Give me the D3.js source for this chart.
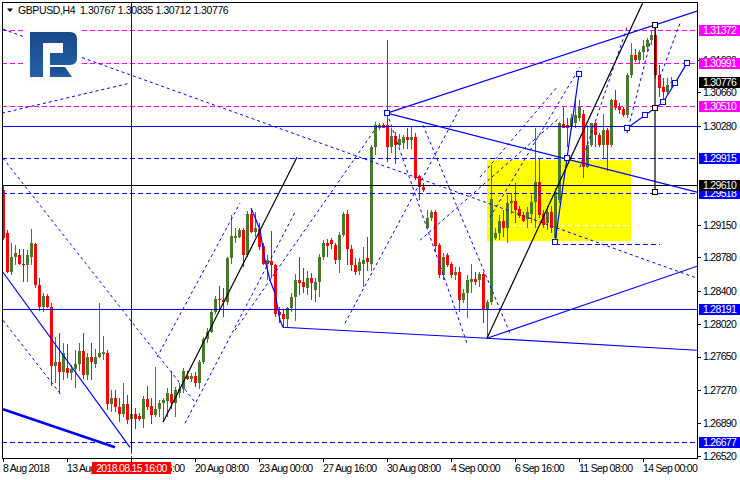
<!DOCTYPE html>
<html><head><meta charset="utf-8">
<script src="https://cdn.jsdelivr.net/npm/d3@7"></script>
<style>
html,body{margin:0;padding:0;background:#fff;}
svg{display:block;font-family:"Liberation Sans",Arial,sans-serif;}
</style></head><body>
<svg id="c" width="740" height="480"></svg>
<script>
// ---- DATA ----
const symbolTitle = "GBPUSD,H4  1.30767 1.30835 1.30712 1.30776";
const opens = [1.2955,1.2906,1.2861,1.2878,1.2881,1.2871,1.2869,1.2879,1.2893,1.2847,1.2821,1.2834,1.2822,1.2754,1.2759,1.2747,1.2752,1.2746,1.2751,1.2757,
1.2771,1.2744,1.2764,1.2757,1.2765,1.2768,1.2769,1.2711,1.2718,1.2707,1.2700,1.2711,1.2694,1.2699,1.2697,1.2694,1.2717,1.2709,1.2698,1.2705,
1.2712,1.2714,1.2722,1.2712,1.2723,1.2728,1.2743,1.2740,1.2743,1.2735,1.2759,1.2785,1.2793,1.2816,1.2831,1.2830,1.2827,1.2877,1.2900,1.2901,
1.2909,1.2881,1.2928,1.2907,1.2910,1.2891,1.2871,1.2874,1.2869,1.2816,1.2813,1.2808,1.2820,1.2833,1.2852,1.2850,1.2843,1.2854,1.2841,1.2850,
1.2878,1.2894,1.2898,1.2892,1.2875,1.2903,1.2928,1.2888,1.2869,1.2862,1.2871,1.2877,1.2871,1.3004,1.3026,1.3029,1.3029,1.3004,1.3016,1.3006,
1.3008,1.3015,1.3012,1.3015,1.2971,1.2958,1.2912,1.2923,1.2930,1.2892,1.2858,1.2881,1.2871,1.2858,1.2861,1.2829,1.2837,1.2850,1.2853,1.2852,
1.2859,1.2818,1.2827,1.2900,1.2906,1.2920,1.2911,1.2940,1.2942,1.2933,1.2926,1.2922,1.2928,1.2941,1.2964,1.2928,1.2917,1.2930,1.2900,1.2943,
1.3030,1.3029,1.3028,1.3031,1.3037,1.3042,1.2981,1.3006,1.3031,1.3017,1.3006,1.3023,1.3006,1.3057,1.3049,1.3047,1.3040,1.3086,1.3109,1.3103,
1.3112,1.3118,1.3126,1.3132,1.3086,1.3072,1.3066,1.30767];
const highs = [1.2960,1.2909,1.2895,1.2892,1.2888,1.2888,1.2886,1.2910,1.2895,1.2854,1.2837,1.2836,1.2826,1.2787,1.2792,1.2780,1.2779,1.2755,1.2772,1.2780,
1.2792,1.2769,1.2780,1.2774,1.2826,1.2789,1.2772,1.2727,1.2727,1.2718,1.2735,1.2721,1.2702,1.2706,1.2701,1.2720,1.2732,1.2718,1.2753,1.2715,
1.2718,1.2729,1.2748,1.2730,1.2735,1.2752,1.2749,1.2746,1.2747,1.2761,1.2787,1.2798,1.2818,1.2834,1.2845,1.2843,1.2879,1.2926,1.2912,1.2911,
1.2911,1.2931,1.2934,1.2930,1.2917,1.2894,1.2881,1.2908,1.2871,1.2821,1.2818,1.2822,1.2838,1.2859,1.2879,1.2866,1.2862,1.2860,1.2854,1.2882,
1.2898,1.2899,1.2900,1.2894,1.2907,1.2930,1.2932,1.2892,1.2877,1.2877,1.2890,1.2901,1.3006,1.3032,1.3031,1.3031,1.3126,1.3026,1.3021,1.3019,
1.3017,1.3025,1.3028,1.3020,1.2972,1.2963,1.2932,1.2932,1.2932,1.2894,1.2883,1.2883,1.2873,1.2867,1.2867,1.2842,1.2858,1.2871,1.2861,1.2861,
1.2861,1.2829,1.2983,1.2911,1.2926,1.2932,1.2949,1.2951,1.2963,1.2937,1.2930,1.2935,1.2949,1.3025,1.2991,1.2932,1.2937,1.2937,1.2957,1.3032,
1.3049,1.3037,1.3042,1.3061,1.3057,1.3046,1.3029,1.3031,1.3032,1.3020,1.3042,1.3026,1.3059,1.3069,1.3054,1.3049,1.3088,1.3122,1.3116,1.3114,
1.3126,1.3128,1.3137,1.3140,1.3097,1.3082,1.3082,1.30835];
const lows = [1.2898,1.2860,1.2858,1.2869,1.2869,1.2850,1.2850,1.2869,1.2843,1.2817,1.2816,1.2820,1.2732,1.2735,1.2722,1.2738,1.2741,1.2738,1.2729,1.2749,
1.2740,1.2738,1.2738,1.2752,1.2763,1.2761,1.2704,1.2702,1.2702,1.2690,1.2696,1.2688,1.2692,1.2683,1.2692,1.2684,1.2704,1.2688,1.2696,1.2696,
1.2690,1.2696,1.2705,1.2696,1.2718,1.2724,1.2738,1.2736,1.2730,1.2728,1.2757,1.2780,1.2792,1.2814,1.2818,1.2810,1.2824,1.2871,1.2895,1.2900,
1.2867,1.2878,1.2906,1.2901,1.2886,1.2869,1.2852,1.2855,1.2810,1.2803,1.2798,1.2798,1.2816,1.2806,1.2835,1.2837,1.2835,1.2829,1.2827,1.2833,
1.2875,1.2878,1.2888,1.2870,1.2860,1.2901,1.2869,1.2863,1.2858,1.2858,1.2844,1.2863,1.2863,1.2995,1.3023,1.3025,1.2987,1.2997,1.2985,1.3004,
1.3002,1.3002,1.3002,1.2966,1.2943,1.2952,1.2911,1.2920,1.2884,1.2854,1.2852,1.2867,1.2855,1.2852,1.2816,1.2826,1.2809,1.2838,1.2846,1.2844,
1.2803,1.2786,1.2824,1.2898,1.2898,1.2901,1.2895,1.2928,1.2917,1.2923,1.2918,1.2912,1.2917,1.2912,1.2923,1.2911,1.2909,1.2906,1.2895,1.2940,
1.3025,1.3004,1.3023,1.3026,1.3034,1.2968,1.2980,1.3004,1.3004,1.3004,1.2991,1.2977,1.3004,1.3046,1.3042,1.3038,1.3037,1.3082,1.3101,1.3099,
1.3103,1.3112,1.3120,1.3082,1.3061,1.3059,1.3063,1.30712];
const closes = [1.2900,1.2861,1.2878,1.2883,1.2871,1.2869,1.2881,1.2894,1.2846,1.2821,1.2834,1.2821,1.2754,1.2759,1.2747,1.2769,1.2746,1.2751,1.2757,1.2771,
1.2744,1.2764,1.2759,1.2765,1.2769,1.2770,1.2711,1.2718,1.2707,1.2700,1.2711,1.2693,1.2699,1.2694,1.2694,1.2717,1.2708,1.2698,1.2705,1.2712,
1.2716,1.2724,1.2712,1.2727,1.2728,1.2748,1.2740,1.2743,1.2735,1.2759,1.2785,1.2793,1.2816,1.2831,1.2829,1.2827,1.2877,1.2902,1.2902,1.2909,
1.2881,1.2928,1.2907,1.2912,1.2890,1.2871,1.2875,1.2869,1.2814,1.2812,1.2808,1.2820,1.2833,1.2852,1.2849,1.2844,1.2854,1.2849,1.2850,1.2878,
1.2894,1.2891,1.2893,1.2875,1.2903,1.2928,1.2888,1.2869,1.2861,1.2873,1.2875,1.2873,1.3004,1.3029,1.3029,1.3026,1.3004,1.3016,1.3006,1.3013,
1.3015,1.3012,1.3015,1.2969,1.2958,1.2955,1.2923,1.2930,1.2891,1.2858,1.2879,1.2869,1.2858,1.2861,1.2829,1.2837,1.2852,1.2853,1.2850,1.2859,
1.2818,1.2827,1.2945,1.2906,1.2920,1.2911,1.2940,1.2942,1.2932,1.2925,1.2920,1.2930,1.2941,1.2964,1.2926,1.2915,1.2930,1.2911,1.2952,1.3031,
1.3026,1.3026,1.3037,1.3040,1.3049,1.2981,1.3006,1.3031,1.3017,1.3006,1.3023,1.3006,1.3057,1.3048,1.3046,1.3040,1.3086,1.3109,1.3103,1.3112,
1.3119,1.3126,1.3132,1.3086,1.3071,1.3066,1.3075,1.30776];

const timeTickBars = [0,16,32,48,64,80,96,112,128,144,160];
const timeTickLabels = ["8 Aug 2018","13 Aug 00:00","15 Aug 16:00","20 Aug 08:00","23 Aug 00:00","27 Aug 16:00","30 Aug 08:00","4 Sep 00:00","6 Sep 16:00","11 Sep 08:00","14 Sep 00:00"];
const crosshairBar = 32;
const crosshairLabel = "2018.08.15 16:00";
const priceTicks = [1.26520,1.26890,1.27270,1.27650,1.28020,1.28400,1.28780,1.29150,1.30280,1.30660,1.31030];

const magentaLevels = [1.31372,1.30991,1.30510];
const blueDashedLevels = [1.29915,1.29518,1.26677];
const blueSolidLevels = [1.30280,1.28191];
const blackSolidLevels = [1.29610];
const currentPrice = 1.30776;

const rectZone = {i1:120.875, i2:156.875, p1:1.29888, p2:1.28965};
const whiteDashedInZone = [[120.875,1.29147],[156.875,1.29147]];
const shortDashed = [[137.875,1.28930],[164.125,1.28930]];

const blueTrend = [
 [[-0.125,1.28611],[31.625,1.26616]],
 [[95.875,1.30424],[173.375,1.31587]],
 [[95.875,1.30424],[173.375,1.29523]],
 [[61.875,1.29341],[62.875,1.29238],[64.125,1.29090],[65.375,1.28748],[66.625,1.28520],[67.875,1.28372],[69.125,1.28064],[69.875,1.27984],[120.875,1.27859],[173.375,1.27722]],
 [[120.875,1.27859],[173.375,1.28680]],
 [[137.875,1.28953],[140.875,1.29911],[143.875,1.30868]],
 [[155.875,1.30253],[160.375,1.30401],[162.875,1.30481],[164.875,1.30549],[167.875,1.30766],[170.875,1.30994]]
];
const blueTrendThick = [[[-0.125,1.27049],[27.875,1.26616]]];
const blackTrend = [
 [[39.875,1.26901],[73.375,1.29922]],
 [[120.875,1.27859],[159.875,1.31689]],
 [[162.875,1.31427],[162.875,1.29523]]
];
const dashedTrend = [
 [[-0.125,1.31381],[173.375,1.28543]],
 [[-0.375,1.30424],[31.625,1.30766]],
 [[-0.125,1.29911],[47.875,1.27129]],
 [[-0.125,1.28064],[14.125,1.27232]],
 [[38.375,1.27642],[59.125,1.29398]],
 [[45.375,1.26890],[72.875,1.29295]],
 [[57.875,1.27950],[93.625,1.30287]],
 [[85.375,1.28030],[114.125,1.30481]],
 [[95.875,1.30424],[115.875,1.27802]],
 [[104.875,1.30287],[126.625,1.27916]],
 [[104.125,1.28976],[139.125,1.30378]],
 [[119.125,1.29694],[138.375,1.30720]],
 [[121.625,1.29238],[144.125,1.30948]],
 [[144.125,1.29808],[155.875,1.31404]],
 [[155.875,1.30196],[161.625,1.31222]],
 [[164.125,1.30834],[169.125,1.31450]]
];
const blueMarkers = [[95.875,1.30424],[137.875,1.28953],[140.875,1.29911],[143.875,1.30868],[155.875,1.30253],[160.375,1.30401],[164.875,1.30549],[167.875,1.30766],[170.875,1.30994]];
const blackMarkers = [[162.875,1.31427],[162.875,1.30481],[162.875,1.29523]];

// ---- CHART ----
const svg = d3.select("#c");
const L = 2, R = 697, T = 2, B = 458;
const x = d3.scaleLinear().domain([0, 173.5]).range([3.5, 697.5]);
const y = d3.scaleLinear().domain([1.26494, 1.31691]).range([458, 2]);
const GREEN = "#467a2a", RED = "#ff0000", BLUE = "#0000ff", MAG = "#ff00ff";
const FS = 10.5, LS = -0.7;

svg.append("defs").append("clipPath").attr("id","clip").append("rect")
  .attr("x",L).attr("y",T).attr("width",R-L).attr("height",B-T);
const plot = svg.append("g").attr("clip-path","url(#clip)");

// zone
plot.append("rect").attr("x",x(rectZone.i1)).attr("y",y(rectZone.p1))
  .attr("width",x(rectZone.i2)-x(rectZone.i1)).attr("height",y(rectZone.p2)-y(rectZone.p1))
  .attr("fill","#ffff00");
const line = d3.line().x(d=>x(d[0])).y(d=>y(d[1]));
plot.append("path").attr("d",line(whiteDashedInZone)).attr("stroke","#fff").attr("stroke-dasharray","5,3").attr("fill","none").attr("shape-rendering","crispEdges");

// candles
const bars = d3.range(opens.length).map(i=>({i,o:opens[i],h:highs[i],l:lows[i],c:closes[i]}));
const cg = plot.append("g").attr("shape-rendering","crispEdges");
cg.selectAll(".w").data(bars).join("rect")
  .attr("x",d=>x(d.i)-0.5).attr("width",1)
  .attr("y",d=>Math.round(y(d.h))).attr("height",d=>Math.max(1,Math.round(y(d.l))-Math.round(y(d.h))))
  .attr("fill",d=>d.c>=d.o?GREEN:RED);
cg.selectAll(".b").data(bars).join("rect")
  .attr("x",d=>x(d.i)-1.5).attr("width",3)
  .attr("y",d=>Math.round(y(Math.max(d.o,d.c))))
  .attr("height",d=>Math.max(1,Math.round(y(Math.min(d.o,d.c)))-Math.round(y(Math.max(d.o,d.c)))))
  .attr("fill",d=>d.c>=d.o?GREEN:RED);

// horizontal levels
function hline(v,color,dash,w){
  const yy = Math.round(y(v))+0.5;
  plot.append("line").attr("x1",L).attr("x2",R).attr("y1",yy).attr("y2",yy)
   .attr("stroke",color).attr("stroke-width",w||1).attr("stroke-dasharray",dash||null).attr("shape-rendering","crispEdges");
}
magentaLevels.forEach(v=>hline(v,MAG,"5,3"));
blueDashedLevels.forEach(v=>hline(v,BLUE,"5,3"));
blueSolidLevels.forEach(v=>hline(v,BLUE));
blackSolidLevels.forEach(v=>hline(v,"#000"));
plot.append("path").attr("d",line(shortDashed)).attr("stroke",BLUE).attr("stroke-dasharray","5,3").attr("fill","none").attr("shape-rendering","crispEdges");

// crosshair vertical
plot.append("line").attr("x1",x(crosshairBar)).attr("x2",x(crosshairBar)).attr("y1",T).attr("y2",B-6)
  .attr("stroke",BLUE).attr("shape-rendering","crispEdges");

// trend lines
const tg = plot.append("g").attr("fill","none");
tg.selectAll(".d").data(dashedTrend).join("path").attr("d",line).attr("stroke",BLUE).attr("stroke-width",1).attr("stroke-dasharray","3,3");
tg.selectAll(".s").data(blueTrend).join("path").attr("d",line).attr("stroke",BLUE).attr("stroke-width",1.2);
tg.selectAll(".t").data(blueTrendThick).join("path").attr("d",line).attr("stroke",BLUE).attr("stroke-width",2.6);
tg.selectAll(".k").data(blackTrend).join("path").attr("d",line).attr("stroke","#000").attr("stroke-width",1.2);

// markers
plot.selectAll(".mb").data(blueMarkers).join("rect")
  .attr("x",d=>Math.round(x(d[0]))-2.5).attr("y",d=>Math.round(y(d[1]))-2.5).attr("width",5).attr("height",5)
  .attr("fill","#fff").attr("stroke",BLUE).attr("shape-rendering","crispEdges");
plot.selectAll(".mk").data(blackMarkers).join("rect")
  .attr("x",d=>Math.round(x(d[0]))-2.5).attr("y",d=>Math.round(y(d[1]))-2.5).attr("width",5).attr("height",5)
  .attr("fill","#fff").attr("stroke","#000").attr("shape-rendering","crispEdges");

// logo
const logo = svg.append("g");
logo.append("rect").attr("x",25).attr("y",28).attr("width",55).attr("height",55).attr("fill","#fdfdfd");
const grad = svg.select("defs").append("linearGradient").attr("id","lg").attr("x1",0).attr("y1",0).attr("x2",0).attr("y2",1);
grad.append("stop").attr("offset","0").attr("stop-color","#1a4a88");
grad.append("stop").attr("offset","1").attr("stop-color","#2460a6");
logo.append("path").attr("d","M30,32 H70 Q77,32 77,39 V58 Q77,65 70,65 H50 V53 H63 V43 H43 V77 H30 Z").attr("fill","url(#lg)");
logo.append("path").attr("d","M50,67 H65 L72,77 H50 Z").attr("fill","url(#lg)");

// frame
const fr = svg.append("g").attr("stroke","#000").attr("shape-rendering","crispEdges");
fr.append("line").attr("x1",L+0.5).attr("x2",L+0.5).attr("y1",T).attr("y2",B+1);
fr.append("line").attr("x1",L).attr("x2",R+1).attr("y1",T+0.5).attr("y2",T+0.5);
fr.append("line").attr("x1",R+0.5).attr("x2",R+0.5).attr("y1",T).attr("y2",B+1);
fr.append("line").attr("x1",L).attr("x2",R+1).attr("y1",B+0.5).attr("y2",B+0.5);

// right axis
const ya = svg.append("g").attr("transform",`translate(${R},0)`)
  .call(d3.axisRight(y).tickValues(priceTicks).tickFormat(d3.format(".5f")).tickSize(4).tickSizeOuter(0));
ya.select(".domain").remove();
ya.attr("font-family",null).attr("font-size",null);
ya.selectAll("text").attr("font-size",FS).attr("letter-spacing",LS).attr("x",6).attr("fill","#000");
ya.selectAll("line").attr("stroke","#000").attr("shape-rendering","crispEdges");

// bottom axis
const xa = svg.append("g").attr("transform",`translate(-1,${B})`)
  .call(d3.axisBottom(x).tickValues(timeTickBars).tickFormat((d,k)=>timeTickLabels[k]).tickSize(4).tickSizeOuter(0));
xa.select(".domain").remove();
xa.attr("font-family",null).attr("font-size",null);
xa.selectAll("text").attr("font-size",FS).attr("letter-spacing",LS).attr("text-anchor","start").attr("y",14).attr("dy",null).attr("x",0).attr("fill","#000");
xa.selectAll("line").attr("stroke","#000").attr("shape-rendering","crispEdges");

// price labels (boxes)
function plabel(v,bg){
  const yy = Math.round(y(v));
  svg.append("rect").attr("x",R+2).attr("y",yy-5).attr("width",740-R-2).attr("height",11).attr("fill",bg);
  svg.append("text").attr("x",R+6).attr("y",yy+4).attr("font-size",FS).attr("letter-spacing",LS).attr("fill","#fff").text(d3.format(".5f")(v));
}
magentaLevels.forEach(v=>plabel(v,MAG));
blueDashedLevels.forEach(v=>plabel(v,BLUE));
plabel(blueSolidLevels[1],BLUE);
blackSolidLevels.forEach(v=>plabel(v,"#000"));
plabel(currentPrice,"#000");

// crosshair time label
const cx = x(crosshairBar);
svg.append("line").attr("x1",cx).attr("x2",cx).attr("y1",B-6).attr("y2",B).attr("stroke",RED).attr("stroke-dasharray","2,2").attr("shape-rendering","crispEdges");
svg.append("rect").attr("x",cx-39.5).attr("y",B+4).attr("width",79).attr("height",12).attr("fill",RED);
svg.append("text").attr("x",cx).attr("y",B+14).attr("text-anchor","middle").attr("font-size",FS).attr("letter-spacing",LS).attr("fill","#fff").text(crosshairLabel);

// header
svg.append("path").attr("d","M7,8.5 L13,8.5 L10,12 Z").attr("fill","#000");
svg.append("text").attr("x",18).attr("y",14).attr("font-size",FS).attr("letter-spacing",-0.4).attr("fill","#000").style("white-space","pre").text(symbolTitle);
</script>
</body></html>
